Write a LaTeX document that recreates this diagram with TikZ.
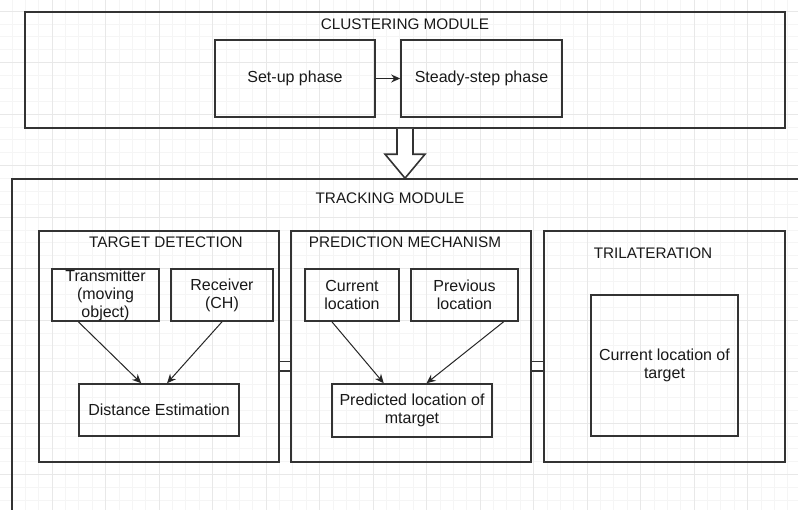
\documentclass[tikz,border=0pt]{standalone}
\usepackage{fontspec}
\setmainfont{Liberation Sans}
\usetikzlibrary{positioning}
\usetikzlibrary{arrows.meta}
\usetikzlibrary{calc}

\tikzset{
  box/.style={draw=black!80, line width=1.6pt, inner sep=0pt, align=center, text=black!90, font=\fontsize{16}{18}\selectfont},
  heading/.style={inner sep=0pt, text=black!90, font=\fontsize{15.3}{17}\selectfont},
  flow/.style={draw=black!85, line width=1pt, -{Stealth[length=9pt, width=8pt]}},
  joint/.style={draw=black!80, double, double distance=8pt, line width=1.5pt},
  blockarrow/.style={draw=black!80, line width=1.6pt, fill=white, line join=miter},
  minorgrid/.style={draw=black!4, line width=0.6pt},
  majorgrid/.style={draw=black!9, line width=0.8pt},
}

\begin{document}
\begin{tikzpicture}[x=1pt, y=-1pt]
    \clip (0,0) rectangle (798,509);
    \fill[white] (0,0) rectangle (798,509);

    % background grid
    \begin{scope}[y=1pt, xshift=-1.5pt, yshift=-11pt]
        \draw[minorgrid, xstep=13.375, ystep=12.875] (0,-520) grid (810,20);
        \draw[majorgrid, xstep=53.5, ystep=51.5] (0,-520) grid (810,20);
    \end{scope}

    % clustering module
    \node[box, minimum width=760pt, minimum height=116pt] (clustering) at (405,70) {};
    \node[heading] (clusteringtitle) at (405,24) {CLUSTERING MODULE};
    \node[box, minimum width=160pt, minimum height=77pt] (setup) at (295,78.5) {Set-up phase};
    \node[box, minimum width=161pt, minimum height=77pt] (steady) at (481.5,78.5) {Steady-step phase};

    \draw[flow] (setup.east) -- (steady.west);

    % tracking module
    \node[box, minimum width=818pt, minimum height=362pt] (tracking) at (421,360) {};
    \node[heading] (trackingtitle) at (390,198) {TRACKING MODULE};

    \coordinate (tip) at (clustering.south |- tracking.north);
    \draw[blockarrow] ($(clustering.south)+(-8,0)$) -- ($(tip)+(-8,-24)$) -- ($(tip)+(-20,-24)$)
        -- (tip) -- ($(tip)+(20,-24)$) -- ($(tip)+(8,-24)$) -- ($(clustering.south)+(8,0)$);

    % target detection
    \node[box, minimum width=240pt, minimum height=231pt] (td) at (159,346.5) {};
    \node[heading] (tdtitle) at (166,242) {TARGET DETECTION};
    \node[box, minimum width=107pt, minimum height=52pt] (transmitter) at (105.5,295) {Transmitter\\(moving\\object)};
    \node[box, minimum width=102pt, minimum height=52pt] (receiver) at (222,295) {Receiver\\(CH)};
    \node[box, minimum width=160pt, minimum height=52pt] (distance) at (159,410) {Distance Estimation};

    \draw[flow] ($(transmitter.south west)!0.25!(transmitter.south east)$) -- ($(distance.north west)!0.39!(distance.north east)$);
    \draw[flow] (receiver.south) -- ($(distance.north west)!0.55!(distance.north east)$);

    % prediction mechanism
    \node[box, minimum width=240pt, minimum height=231pt] (pm) at (411,346.5) {};
    \node[heading] (pmtitle) at (405,242) {PREDICTION MECHANISM};
    \node[box, minimum width=94pt, minimum height=52pt] (current) at (352,295) {Current\\location};
    \node[box, minimum width=107pt, minimum height=52pt] (previous) at (464.5,295) {Previous\\location};
    \node[box, minimum width=160pt, minimum height=53pt] (predicted) at (412,410.5) {Predicted location of\\mtarget};

    \draw[flow] ($(current.south west)!0.29!(current.south east)$) -- ($(predicted.north west)!0.325!(predicted.north east)$);
    \draw[flow] ($(previous.south west)!0.86!(previous.south east)$) -- ($(predicted.north west)!0.59!(predicted.north east)$);

    % trilateration
    \node[box, minimum width=241pt, minimum height=231pt] (tri) at (664.5,346.5) {};
    \node[heading] (trititle) at (653,253) {TRILATERATION};
    \node[box, minimum width=147pt, minimum height=141pt] (target) at (664.5,365.5) {Current location of\\target};

    \draw[joint] ($(td.east)+(0,19.5)$) -- ($(pm.west)+(0,19.5)$);
    \draw[joint] ($(pm.east)+(0,19.5)$) -- ($(tri.west)+(0,19.5)$);
\end{tikzpicture}
\end{document}
